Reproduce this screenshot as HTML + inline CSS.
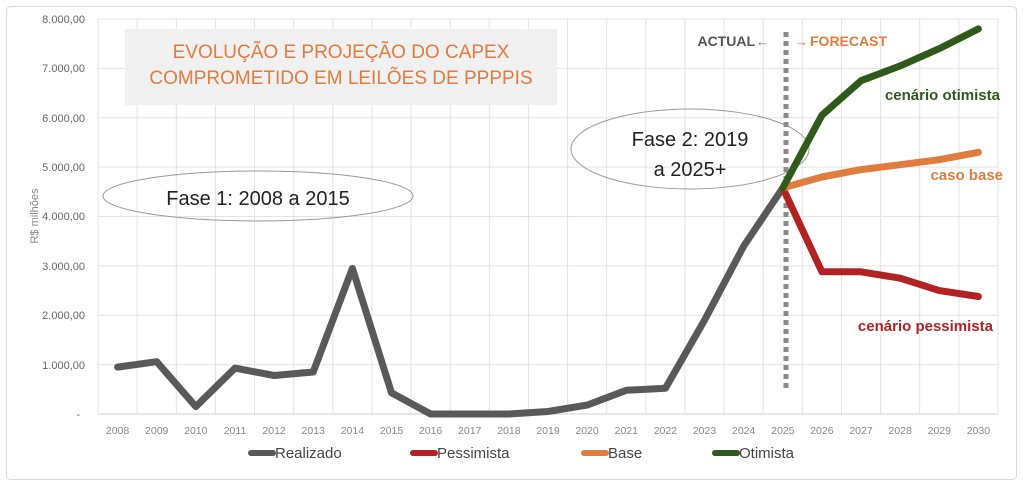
<!DOCTYPE html>
<html><head><meta charset="utf-8"><style>
html,body{margin:0;padding:0;background:#fff;}
svg{display:block;font-family:"Liberation Sans",sans-serif;}
</style></head><body>
<svg width="1024" height="486" viewBox="0 0 1024 486">
<rect x="6.5" y="6.5" width="1010" height="473" rx="4" fill="#fff" stroke="#d9d9d9"/>
<g stroke="#e3e3e3" stroke-width="1">
<line x1="98" y1="19" x2="998" y2="19"/><line x1="98" y1="68.4" x2="998" y2="68.4"/><line x1="98" y1="117.7" x2="998" y2="117.7"/><line x1="98" y1="167.1" x2="998" y2="167.1"/><line x1="98" y1="216.5" x2="998" y2="216.5"/><line x1="98" y1="265.9" x2="998" y2="265.9"/><line x1="98" y1="315.3" x2="998" y2="315.3"/><line x1="98" y1="364.6" x2="998" y2="364.6"/>
<line x1="98" y1="19" x2="98" y2="414"/><line x1="137.1" y1="19" x2="137.1" y2="414"/><line x1="176.3" y1="19" x2="176.3" y2="414"/><line x1="215.4" y1="19" x2="215.4" y2="414"/><line x1="254.5" y1="19" x2="254.5" y2="414"/><line x1="293.7" y1="19" x2="293.7" y2="414"/><line x1="332.8" y1="19" x2="332.8" y2="414"/><line x1="371.9" y1="19" x2="371.9" y2="414"/><line x1="411" y1="19" x2="411" y2="414"/><line x1="450.2" y1="19" x2="450.2" y2="414"/><line x1="489.3" y1="19" x2="489.3" y2="414"/><line x1="528.4" y1="19" x2="528.4" y2="414"/><line x1="567.6" y1="19" x2="567.6" y2="414"/><line x1="606.7" y1="19" x2="606.7" y2="414"/><line x1="645.8" y1="19" x2="645.8" y2="414"/><line x1="685" y1="19" x2="685" y2="414"/><line x1="724.1" y1="19" x2="724.1" y2="414"/><line x1="763.2" y1="19" x2="763.2" y2="414"/><line x1="802.3" y1="19" x2="802.3" y2="414"/><line x1="841.5" y1="19" x2="841.5" y2="414"/><line x1="880.6" y1="19" x2="880.6" y2="414"/><line x1="919.7" y1="19" x2="919.7" y2="414"/><line x1="958.9" y1="19" x2="958.9" y2="414"/><line x1="998" y1="19" x2="998" y2="414"/>
</g>
<line x1="98" y1="414" x2="998" y2="414" stroke="#d0d0d0"/>
<g font-size="11" fill="#666" text-anchor="end">
<text x="85" y="23">8.000,00</text><text x="85" y="72">7.000,00</text><text x="85" y="122">6.000,00</text><text x="85" y="171">5.000,00</text><text x="85" y="220">4.000,00</text><text x="85" y="270">3.000,00</text><text x="85" y="319">2.000,00</text><text x="85" y="369">1.000,00</text><text x="80" y="418">-</text>
</g>
<text transform="translate(38,216) rotate(-90)" font-size="11" fill="#888" text-anchor="middle">R$ milhões</text>
<g font-size="10.5" fill="#888" text-anchor="middle">
<text x="117.6" y="434">2008</text><text x="156.7" y="434">2009</text><text x="195.8" y="434">2010</text><text x="235" y="434">2011</text><text x="274.1" y="434">2012</text><text x="313.2" y="434">2013</text><text x="352.4" y="434">2014</text><text x="391.5" y="434">2015</text><text x="430.6" y="434">2016</text><text x="469.7" y="434">2017</text><text x="508.9" y="434">2018</text><text x="548" y="434">2019</text><text x="587.1" y="434">2020</text><text x="626.3" y="434">2021</text><text x="665.4" y="434">2022</text><text x="704.5" y="434">2023</text><text x="743.7" y="434">2024</text><text x="782.8" y="434">2025</text><text x="821.9" y="434">2026</text><text x="861" y="434">2027</text><text x="900.2" y="434">2028</text><text x="939.3" y="434">2029</text><text x="978.4" y="434">2030</text>
</g>
<rect x="125" y="29" width="432" height="76" fill="#f0f0f0"/>
<text x="341" y="58" font-size="19" fill="#e07c3e" text-anchor="middle">EVOLUÇÃO E PROJEÇÃO DO CAPEX</text>
<text x="341" y="84" font-size="19" fill="#e07c3e" text-anchor="middle">COMPROMETIDO EM LEILÕES DE PPPPIS</text>
<ellipse cx="258" cy="196" rx="155" ry="25" fill="none" stroke="#999"/>
<text x="258" y="205" font-size="20" fill="#222" text-anchor="middle">Fase 1: 2008 a 2015</text>
<ellipse cx="690" cy="149" rx="119" ry="40" fill="none" stroke="#999"/>
<text x="690" y="146" font-size="20" fill="#222" text-anchor="middle">Fase 2: 2019</text>
<text x="690" y="176" font-size="20" fill="#222" text-anchor="middle">a 2025+</text>
<line x1="786" y1="32" x2="786" y2="388" stroke="#8a8a8a" stroke-width="5" stroke-dasharray="5,4"/>
<text x="755" y="46" font-size="14" font-weight="bold" fill="#555" text-anchor="end">ACTUAL</text>
<text x="756" y="46" font-size="13" fill="#777">←</text>
<text x="795" y="46" font-size="13" fill="#e07c3e">→</text>
<text x="810" y="46" font-size="14" font-weight="bold" fill="#e07c3e">FORECAST</text>
<g fill="none" stroke-width="7" stroke-linejoin="round" stroke-linecap="round">
<polyline stroke="#595959" points="117.6,367.1 156.7,361.7 195.8,406.6 235,368.1 274.1,375.5 313.2,372 352.4,268.4 391.5,392.8 430.6,414 469.7,414 508.9,414 548,411.5 587.1,405.1 626.3,390.3 665.4,388.3 704.5,320.2 743.7,246.1 782.8,187.9"/>
<polyline stroke="#b22222" points="782.8,187.9 821.9,271.8 861,271.8 900.2,278.2 939.3,290.6 978.4,296.5"/>
<polyline stroke="#e07c3e" points="782.8,187.9 821.9,177 861,169.6 900.2,164.7 939.3,159.7 978.4,152.3"/>
<polyline stroke="#2f5a1c" points="782.8,187.9 821.9,115.3 861,80.7 900.2,65.9 939.3,48.6 978.4,28.9"/>
</g>
<text x="1000" y="100" font-size="15" font-weight="bold" fill="#2f5a1c" text-anchor="end">cenário otimista</text>
<text x="1003" y="180" font-size="15" font-weight="bold" fill="#e07c3e" text-anchor="end">caso base</text>
<text x="993" y="331" font-size="15" font-weight="bold" fill="#b22222" text-anchor="end">cenário pessimista</text>
<g font-size="15" fill="#444">
<line x1="251" y1="453" x2="273" y2="453" stroke="#595959" stroke-width="6" stroke-linecap="round"/><text x="275" y="458">Realizado</text>
<line x1="413" y1="453" x2="435" y2="453" stroke="#b22222" stroke-width="6" stroke-linecap="round"/><text x="437" y="458">Pessimista</text>
<line x1="584" y1="453" x2="606" y2="453" stroke="#e07c3e" stroke-width="6" stroke-linecap="round"/><text x="608" y="458">Base</text>
<line x1="715" y1="453" x2="737" y2="453" stroke="#2f5a1c" stroke-width="6" stroke-linecap="round"/><text x="739" y="458">Otimista</text>
</g>
</svg>
</body></html>
